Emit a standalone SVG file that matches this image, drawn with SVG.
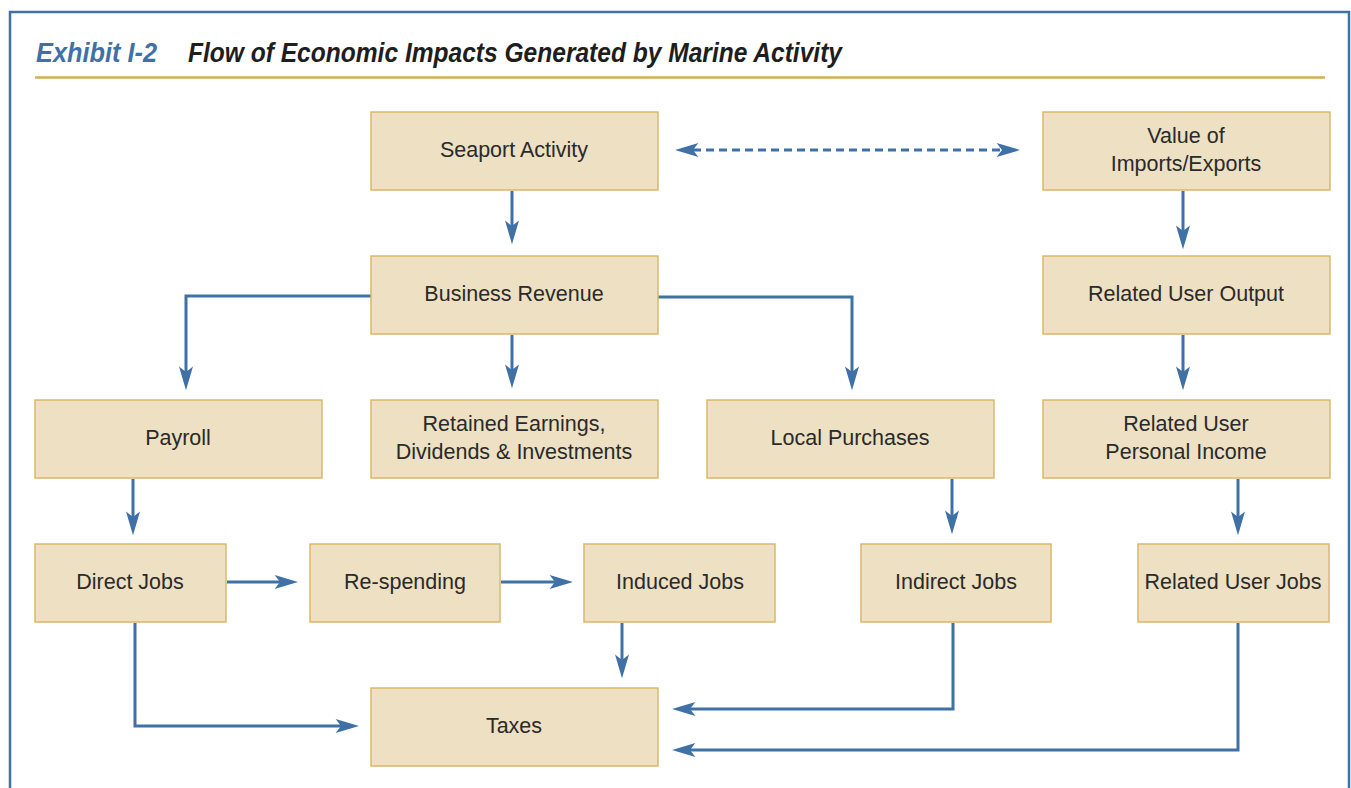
<svg xmlns="http://www.w3.org/2000/svg" width="1351" height="788" viewBox="0 0 1351 788">
<style>
.box rect{fill:#ede0c3;stroke:#dbb768;stroke-width:1.5}
.box text{font-family:"Liberation Sans",Arial,sans-serif;font-size:21.5px;fill:#2a2a2a;text-anchor:middle}
.conn path{fill:none;stroke:#3f71a7;stroke-width:3}
.title{font-family:"Liberation Sans",Arial,sans-serif;font-weight:bold;font-style:italic;font-size:28px}
</style>
<defs>
<marker id="ah" markerUnits="userSpaceOnUse" markerWidth="24" markerHeight="14" viewBox="0 0 22 13" refX="5" refY="6.5" orient="auto-start-reverse">
<path d="M0,0 L22,6.5 L0,13 L5,6.5 z" fill="#3f71a7"/>
</marker>
</defs>
<rect x="10" y="12" width="1339" height="800" fill="#ffffff" stroke="#3f71a7" stroke-width="2.5"/>
<text class="title" x="36" y="62" fill="#3f71a7" textLength="121" lengthAdjust="spacingAndGlyphs">Exhibit I-2</text>
<text class="title" x="188" y="62" fill="#1e1e1e" textLength="654" lengthAdjust="spacingAndGlyphs">Flow of Economic Impacts Generated by Marine Activity</text>
<line x1="35" y1="77.5" x2="1325" y2="77.5" stroke="#d6ad52" stroke-width="2.5"/>

<g class="conn">
<path d="M512,191 V226" marker-end="url(#ah)"/>
<path d="M693,150 H1002" stroke-dasharray="8 5" marker-start="url(#ah)" marker-end="url(#ah)"/>
<path d="M1183,191 V231" marker-end="url(#ah)"/>
<path d="M371,296 H186 V372" marker-end="url(#ah)"/>
<path d="M512,335 V370" marker-end="url(#ah)"/>
<path d="M658,297 H852 V372" marker-end="url(#ah)"/>
<path d="M1183,335 V372" marker-end="url(#ah)"/>
<path d="M133,479 V517" marker-end="url(#ah)"/>
<path d="M952,479 V516" marker-end="url(#ah)"/>
<path d="M1238,479 V517" marker-end="url(#ah)"/>
<path d="M227,582 H280" marker-end="url(#ah)"/>
<path d="M501,582 H555" marker-end="url(#ah)"/>
<path d="M135,623 V726 H341" marker-end="url(#ah)"/>
<path d="M622,623 V660" marker-end="url(#ah)"/>
<path d="M953,623 V709 H690" marker-end="url(#ah)"/>
<path d="M1238,623 V750 H690" marker-end="url(#ah)"/>
</g>

<g id="seaport" class="box"><rect x="371" y="112" width="287" height="78"/><text x="514" y="157">Seaport Activity</text></g>
<g id="value" class="box"><rect x="1043" y="112" width="287" height="78"/><text x="1186" y="143">Value of</text><text x="1186" y="171">Imports/Exports</text></g>
<g id="revenue" class="box"><rect x="371" y="256" width="287" height="78"/><text x="514" y="301">Business Revenue</text></g>
<g id="useroutput" class="box"><rect x="1043" y="256" width="287" height="78"/><text x="1186" y="301">Related User Output</text></g>
<g id="payroll" class="box"><rect x="35" y="400" width="287" height="78"/><text x="178" y="445">Payroll</text></g>
<g id="retained" class="box"><rect x="371" y="400" width="287" height="78"/><text x="514" y="431">Retained Earnings,</text><text x="514" y="459">Dividends &amp; Investments</text></g>
<g id="local" class="box"><rect x="707" y="400" width="287" height="78"/><text x="850" y="445">Local Purchases</text></g>
<g id="userincome" class="box"><rect x="1043" y="400" width="287" height="78"/><text x="1186" y="431">Related User</text><text x="1186" y="459">Personal Income</text></g>
<g id="directjobs" class="box"><rect x="35" y="544" width="191" height="78"/><text x="130" y="589">Direct Jobs</text></g>
<g id="respending" class="box"><rect x="310" y="544" width="190" height="78"/><text x="405" y="589">Re-spending</text></g>
<g id="inducedjobs" class="box"><rect x="584" y="544" width="191" height="78"/><text x="680" y="589">Induced Jobs</text></g>
<g id="indirectjobs" class="box"><rect x="861" y="544" width="190" height="78"/><text x="956" y="589">Indirect Jobs</text></g>
<g id="userjobs" class="box"><rect x="1138" y="544" width="191" height="78"/><text x="1233" y="589">Related User Jobs</text></g>
<g id="taxes" class="box"><rect x="371" y="688" width="287" height="78"/><text x="514" y="733">Taxes</text></g>
</svg>
